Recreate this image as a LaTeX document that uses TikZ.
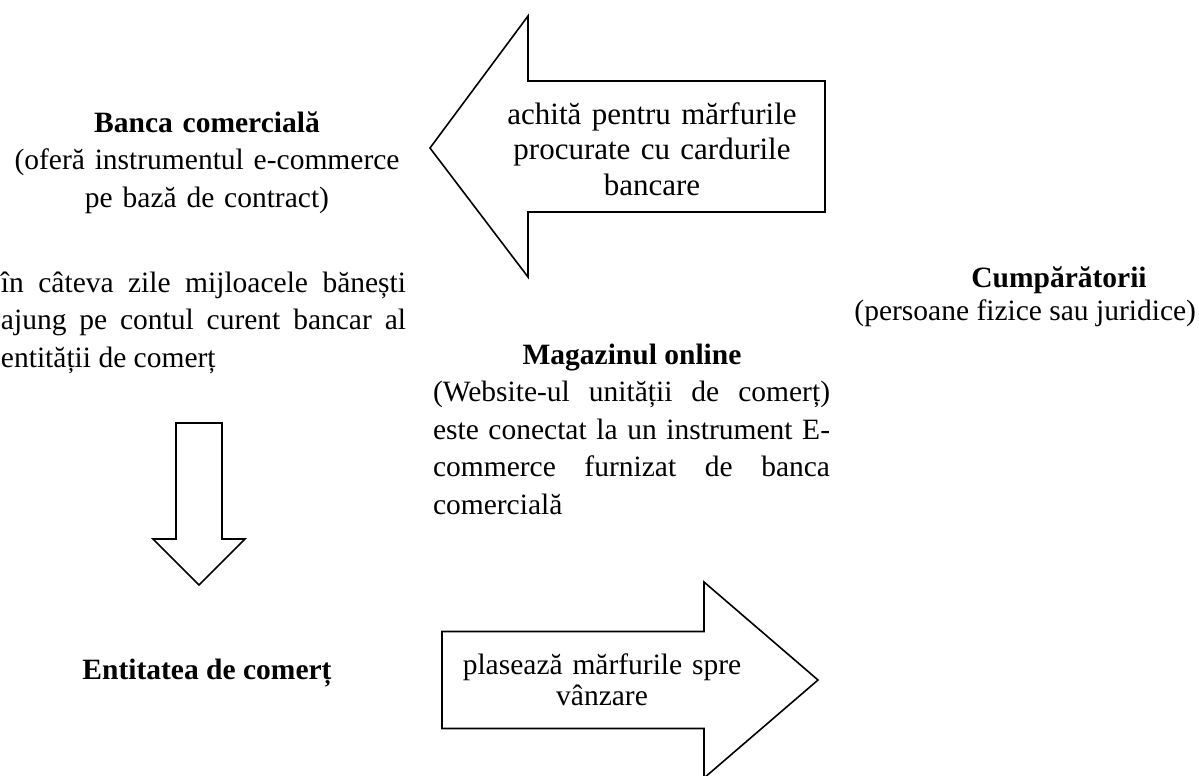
\documentclass[tikz,border=0pt]{standalone}
\usepackage{fontspec}
\setmainfont{Liberation Serif}
\usepackage{tikz}
\tikzset{txt/.style={inner sep=0pt, outer sep=0pt, font=\fontsize{29.5}{37.5}\selectfont}}
\tikzset{ttl/.style={txt, font=\fontsize{29.5}{37.5}\selectfont\bfseries}}
\tikzset{blockarrow/.style={draw, line width=1.6pt, line join=miter}}
\newcommand{\lskip}[2]{\fontsize{#1}{#2}\selectfont}

\begin{document}
\begin{tikzpicture}[x=1pt, y=-1pt]
  \useasboundingbox (0,0) rectangle (1199,776);

  % --- bank ---
  \node[ttl, anchor=base, text width=400pt, align=center] (bank) at (207,132)
    {Banca comercială\\[0pt]\mdseries(oferă instrumentul e-commerce\\pe bază de contract)};
  \node[txt, anchor=base west, text width=405pt, align=justify] (transfer) at (1,292)
    {în câteva zile mijloacele bănești\linebreak ajung pe contul curent bancar al\linebreak entității de comerț};

  % --- payment arrow ---
  \draw[blockarrow] (825,81) -- (528,81) -- (528,16) -- (430,148) -- (528,277)
                    -- (528,212) -- (825,212) -- cycle;
  \node[txt, anchor=base, text width=300pt, align=center, font=\lskip{31}{35.5}] (pay) at (652,124)
    {achită pentru mărfurile\\procurate cu cardurile\\bancare};

  % --- buyers ---
  \node[ttl, anchor=base] (buyer) at (1059,287) {Cumpărătorii};
  \node[txt, anchor=base east] (buyerdesc) at (1196,320) {(persoane fizice sau juridice)};

  % --- online shop ---
  \node[ttl, anchor=base] (shop) at (632,364) {Magazinul online};
  \node[txt, anchor=base west, text width=397pt, align=justify] (shopdesc) at (433,401.5)
    {(Website-ul unității de comerț)\linebreak este conectat la un instrument E-\linebreak commerce furnizat de banca\linebreak comercială};

  % --- down arrow ---
  \draw[blockarrow] (176,423) -- (222,423) -- (222,539) -- (245,539) -- (199,585)
                    -- (153,539) -- (176,539) -- cycle;

  % --- merchant and sale arrow ---
  \node[ttl, anchor=base] (merchant) at (207,679) {Entitatea de comerț};
  \draw[blockarrow] (442,631.5) -- (704,631.5) -- (704,582) -- (818,680) -- (704,778)
                    -- (704,728.5) -- (442,728.5) -- cycle;
  \node[txt, anchor=base, text width=300pt, align=center, font=\lskip{29.5}{31}] (sale) at (602,674)
    {plasează mărfurile spre\\vânzare};
\end{tikzpicture}
\end{document}
